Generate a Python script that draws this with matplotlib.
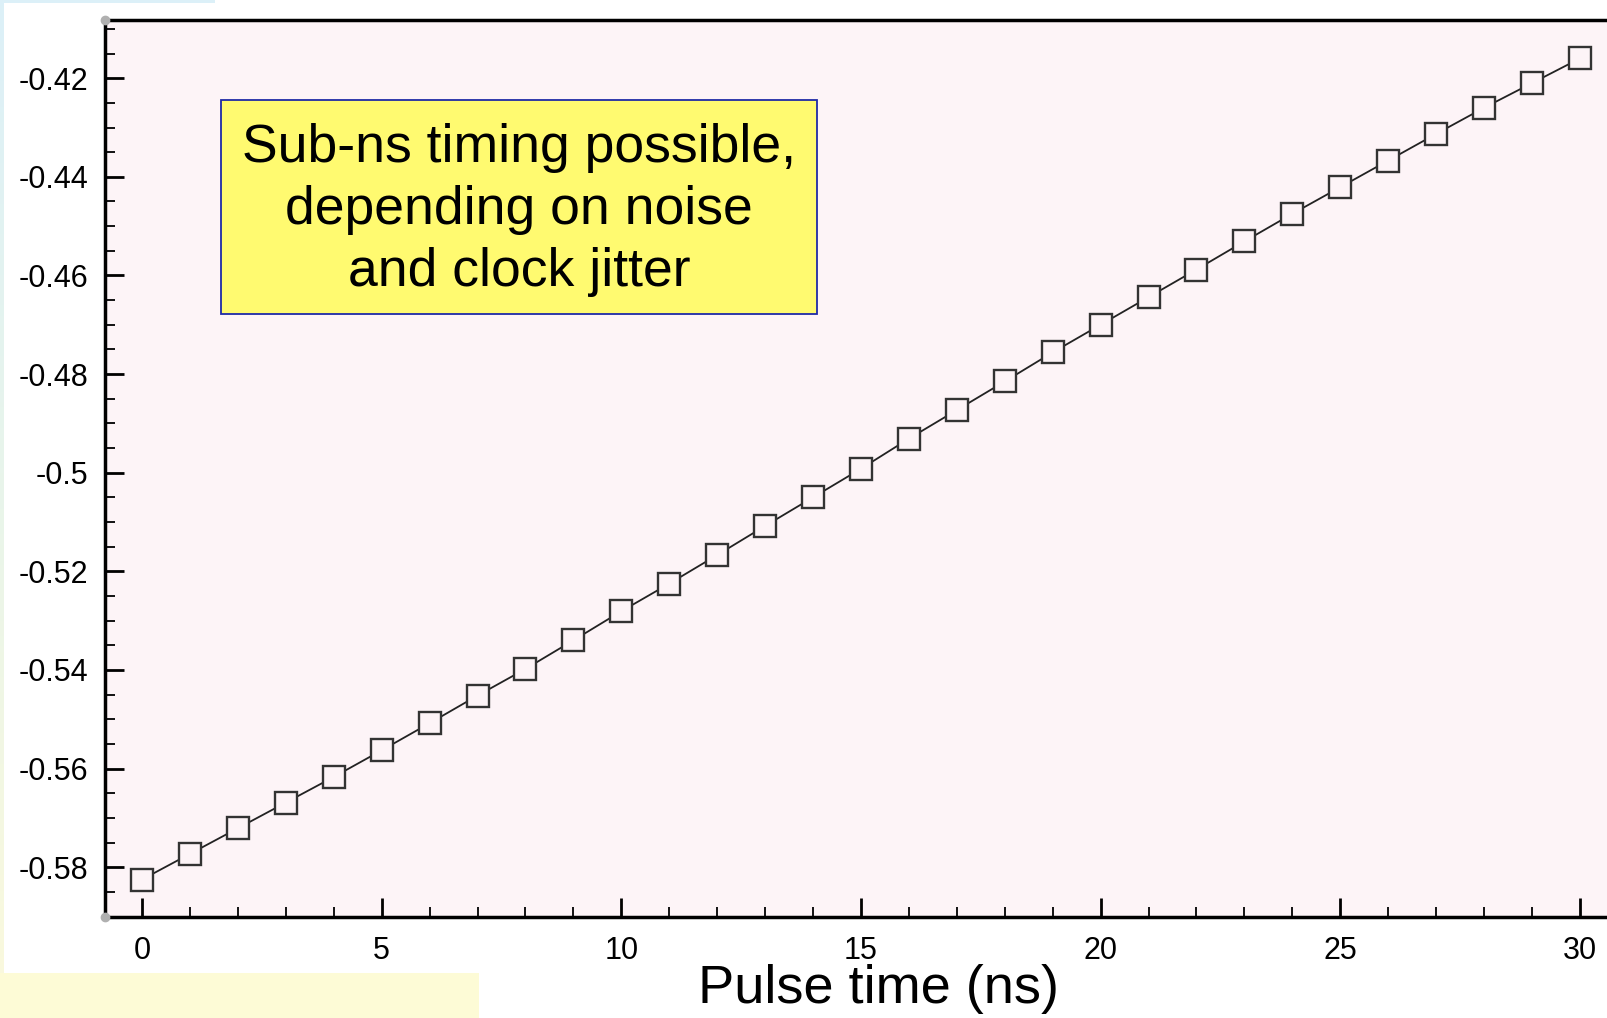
import matplotlib
matplotlib.use("Agg")
import matplotlib.pyplot as plt
import numpy as np
from matplotlib.patches import Rectangle
from matplotlib.ticker import MultipleLocator, FuncFormatter

plt.rcParams['font.family'] = ['Liberation Sans', 'DejaVu Sans']

# data
pulse_time = list(range(31))  # ns
response = [-0.5825, -0.5773, -0.5721, -0.5669, -0.5617, -0.5563, -0.5508,
            -0.5452, -0.5398, -0.5340, -0.5281, -0.5225, -0.5167, -0.5108,
            -0.5050, -0.4992, -0.4931, -0.4873, -0.4815, -0.4756, -0.4700,
            -0.4644, -0.4588, -0.4531, -0.4475, -0.4421, -0.4367, -0.4313,
            -0.4260, -0.4210, -0.4160]
y_ticks = [-0.58, -0.56, -0.54, -0.52, -0.5, -0.48, -0.46, -0.44, -0.42]
x_ticks = [0, 5, 10, 15, 20, 25, 30]
note = "Sub-ns timing possible,\ndepending on noise\nand clock jitter"
xlabel = "Pulse time (ns)"

W, H = 1607, 1018
bg = '#fdf4f7'

fig = plt.figure(figsize=(W / 100, H / 100), dpi=100)
fig.patch.set_facecolor('white')

# slide decorations: left strip and bottom yellow band
strip = fig.add_axes([0, 0, 4 / W, 1])
grad = np.linspace(0, 1, 200).reshape(-1, 1)
strip.imshow(grad, aspect='auto', cmap=matplotlib.colors.LinearSegmentedColormap.from_list(
    'st', ['#fbf9dc', '#e9f5ea', '#dcf0f8']), origin='lower')
strip.axis('off')
fig.patches.append(Rectangle((0, 0), 479 / W, 45 / H, transform=fig.transFigure,
                             facecolor='#fdfbd6', edgecolor='none', zorder=0))
fig.patches.append(Rectangle((0, 1 - 3 / H), 215 / W, 3 / H, transform=fig.transFigure,
                             facecolor='#dcf0f8', edgecolor='none', zorder=0))

left, bottom, top = 105 / W, 1 - 917 / H, 1 - 20 / H
ax = fig.add_axes([left, bottom, 1 - left, top - bottom])
ax.set_facecolor(bg)

ax.plot(pulse_time, response, color='#222222', lw=1.3, marker='s', ms=16.5,
        mfc=bg, mec='#333333', mew=1.7, zorder=3)

ax.set_xlim(-0.772, 30.565)
ax.set_ylim(-0.5901, -0.4082)

ax.set_xticks(x_ticks)
ax.set_yticks(y_ticks)
ax.xaxis.set_minor_locator(MultipleLocator(1))
ax.yaxis.set_minor_locator(MultipleLocator(0.005))
ax.yaxis.set_major_formatter(FuncFormatter(lambda v, p: ('%g' % round(v, 3))))

ax.tick_params(which='major', direction='in', length=14, width=2, labelsize=22,
               colors='black')
ax.tick_params(axis='x', which='major', pad=14)
ax.tick_params(axis='y', which='major', pad=12)
ax.tick_params(which='minor', direction='in', length=7, width=1.3)

for s in ['left', 'top', 'bottom']:
    ax.spines[s].set_linewidth(2.5)
ax.spines['right'].set_visible(False)

# grey end dots of the axes
for yy in [0, 1]:
    ax.plot([0], [yy], transform=ax.transAxes, marker='o', ms=6, color='#b0b0b0',
            clip_on=False, zorder=5)

# annotation box
fig.patches.append(Rectangle((221 / W, 1 - 314 / H), 596 / W, 214 / H,
                             transform=fig.transFigure, facecolor='#fffa70',
                             edgecolor='#1f2aa6', linewidth=1.3, zorder=6))
fig.text(519 / W, 1 - 210 / H, note, fontsize=38.5, ha='center', va='center',
         linespacing=1.31, zorder=7)

fig.text(879 / W, 1 - 989 / H, xlabel, fontsize=39, ha='center', va='center')

fig.savefig('out.png', dpi=100)
